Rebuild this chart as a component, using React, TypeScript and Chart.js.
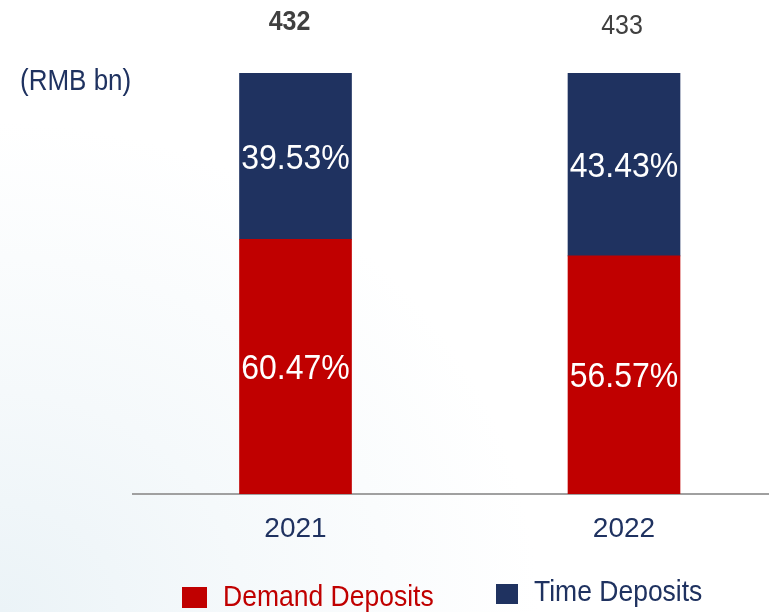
import React, { useEffect, useRef } from "react";
import { Chart, registerables } from "chart.js";

Chart.register(...registerables);

const years = ["2021", "2022"];
const demandDeposits = [60.47, 56.57];
const timeDeposits = [39.53, 43.43];
const totals = ["432", "433"];
const seriesNames = ["Demand Deposits", "Time Deposits"];
const unitLabel = "(RMB bn)";

const RED = "#C00000";
const NAVY = "#1F3260";
const FONT = "'Liberation Sans', Arial, sans-serif";

function tallText(ctx: any, text: string, x: number, y: number, sy: number) {
  ctx.save();
  ctx.translate(x, y);
  ctx.scale(1, sy);
  ctx.fillText(text, 0, 0);
  ctx.restore();
}

const overlayPlugin = {
  id: "overlay",
  afterDatasetsDraw(chart: any) {
    const ctx = chart.ctx;
    ctx.save();
    // segment labels
    chart.data.datasets.forEach((ds: any, di: number) => {
      const meta = chart.getDatasetMeta(di);
      meta.data.forEach((el: any, i: number) => {
        const v = ds.data[i].y;
        const yc = (el.y + el.base) / 2 + 3;
        ctx.fillStyle = "#ffffff";
        ctx.font = `32px ${FONT}`;
        ctx.textAlign = "center";
        ctx.textBaseline = "middle";
        tallText(ctx, v.toFixed(2) + "%", el.x, yc, 1.08);
      });
    });
    // totals
    const topMeta = chart.getDatasetMeta(chart.data.datasets.length - 1);
    topMeta.data.forEach((el: any, i: number) => {
      ctx.fillStyle = "#404040";
      ctx.font = `${i === 0 ? "bold " : ""}25px ${FONT}`;
      ctx.textAlign = "center";
      ctx.textBaseline = "middle";
      tallText(ctx, totals[i], el.x - (i === 0 ? 6 : 2), el.y - (i === 0 ? 51 : 47), 1.12);
    });
    // unit label
    ctx.fillStyle = NAVY;
    ctx.font = `26px ${FONT}`;
    ctx.textAlign = "left";
    ctx.textBaseline = "middle";
    tallText(ctx, unitLabel, 20, 82, 1.1);
    // legend
    const items = [
      { x: 182, y: 587, w: 25, h: 21, ty: 598, size: 26.5, color: RED, text: seriesNames[0] },
      { x: 496, y: 584, w: 22, h: 20, ty: 593, size: 26.5, color: NAVY, text: seriesNames[1] },
    ];
    items.forEach((it) => {
      ctx.fillStyle = it.color;
      ctx.fillRect(it.x, it.y, it.w, it.h);
      ctx.font = `${it.size}px ${FONT}`;
      ctx.textAlign = "left";
      ctx.textBaseline = "middle";
      tallText(ctx, it.text, it.x + it.w + 16, it.ty, 1.08);
    });
    ctx.restore();
  },
};

export default function App() {
  const ref = useRef<HTMLCanvasElement | null>(null);
  useEffect(() => {
    if (!ref.current) return;
    const chart = new Chart(ref.current, {
      type: "bar",
      data: {
        datasets: [
          {
            label: seriesNames[0],
            data: years.map((_, i) => ({ x: i, y: demandDeposits[i] })),
            backgroundColor: RED,
            barThickness: 112,
          },
          {
            label: seriesNames[1],
            data: years.map((_, i) => ({ x: i, y: timeDeposits[i] })),
            backgroundColor: NAVY,
            barThickness: 112,
          },
        ],
      },
      options: {
        animation: false,
        responsive: false,
        maintainAspectRatio: false,
        layout: { padding: { left: 133, right: 0, top: 73, bottom: 48.4 } },
        plugins: { legend: { display: false }, tooltip: { enabled: false } },
        scales: {
          x: {
            type: "linear",
            stacked: true,
            offset: false,
            min: -0.4947,
            max: 1.4414,
            afterBuildTicks: (axis: any) => {
              axis.ticks = years.map((_, i) => ({ value: i }));
            },
            ticks: {
              callback: (v: any) => years[v] ?? "",
              color: NAVY,
              font: { family: FONT, size: 28 },
              padding: 18,
              maxRotation: 0,
            },
            grid: { display: false, drawTicks: false },
            border: { display: true, color: "#a0a0a0", width: 2 },
          },
          y: {
            stacked: true,
            display: false,
            min: 0,
            max: 100,
          },
        },
      },
      plugins: [overlayPlugin],
    } as any);
    return () => chart.destroy();
  }, []);
  return (
    <div
      style={{
        position: "fixed",
        left: 0,
        top: 0,
        width: 769,
        height: 612,
        background:
          "radial-gradient(ellipse 70% 80% at 0% 100%, #ebf3f7 0%, #f5f9fb 45%, #ffffff 100%)",
      }}
    >
      <canvas ref={ref} width={769} height={612} style={{ display: "block" }} />
    </div>
  );
}
